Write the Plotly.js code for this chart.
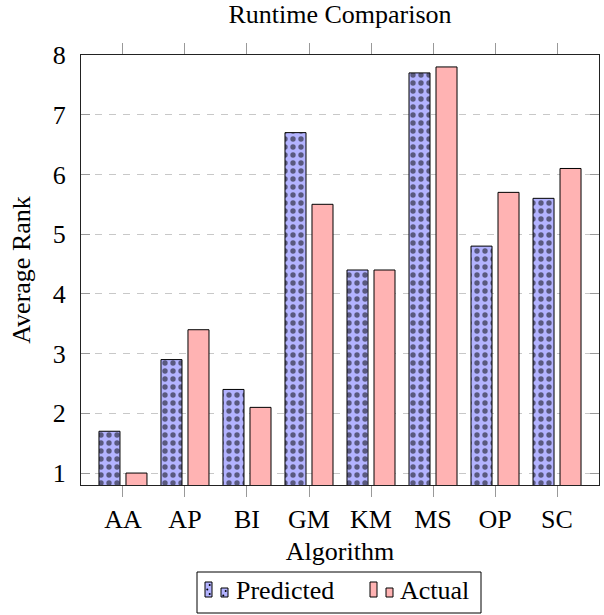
<!DOCTYPE html>
<html>
<head>
<meta charset="utf-8">
<script src="https://cdn.plot.ly/plotly-3.0.1.min.js"></script>
<style>html,body{margin:0;padding:0;background:#fff;}#chart{width:604px;height:615px;}</style>
</head>
<body>
<div id="chart"></div>
<script>
const categories = ["AA", "AP", "BI", "GM", "KM", "MS", "OP", "SC"];
const predicted = [1.7, 2.9, 2.4, 6.7, 4.4, 7.7, 4.8, 5.6];
const actual = [1.0, 3.4, 2.1, 5.5, 4.4, 7.8, 5.7, 6.1];
const yTicks = [1, 2, 3, 4, 5, 6, 7, 8];
const seriesNames = ["Predicted", "Actual"];

const FONT = "Liberation Serif, serif";
const BLUE = "#b3b3ff", PINK = "#ffb3b3";

const traces = [
  {
    type: "bar", name: seriesNames[0], x: categories, y: predicted,
    marker: {
      color: BLUE,
      line: {color: "#000", width: 1},
      pattern: {shape: ".", fgcolor: "#000", bgcolor: BLUE, size: 8, solidity: 0.35, fillmode: "overlay"}
    },
    showlegend: false
  },
  {
    type: "bar", name: seriesNames[1], x: categories, y: actual,
    marker: {color: PINK, line: {color: "#000", width: 1}},
    showlegend: false
  }
];

// Plot area in pixels: x 81..599, y 55..485
const PL = 81, PR = 599, PT = 55, PB = 485;
const px = v => (v - PL) / (PR - PL);
const py = v => (PB - v) / (PB - PT);

const shapes = [];
const annotations = [];
// legend box
shapes.push({type: "rect", xref: "paper", yref: "paper", x0: px(197), x1: px(481), y0: py(613), y1: py(572),
             line: {color: "#000", width: 1}, fillcolor: "#fff", layer: "above"});
function icon(x0, colour, dotted) {
  const bars = [[x0, x0 + 7, 582], [x0 + 16, x0 + 23, 588]];
  bars.forEach(b => {
    shapes.push({type: "rect", xref: "paper", yref: "paper", x0: px(b[0]), x1: px(b[1]), y0: py(597), y1: py(b[2]),
                 line: {color: "#000", width: 1}, fillcolor: colour, layer: "above"});
    if (dotted) {
      for (let yy = b[2] + 3; yy < 596; yy += 4.5) {
        const cx = b[0] + 3.5 + ((Math.round((yy - b[2]) / 4.5) % 2) ? 1.2 : -1.2);
        shapes.push({type: "circle", xref: "paper", yref: "paper", x0: px(cx - 1), x1: px(cx + 1), y0: py(yy + 1), y1: py(yy - 1),
                     line: {width: 0}, fillcolor: "#000", layer: "above"});
      }
    }
  });
}
icon(205, BLUE, true);
icon(370, PINK, false);
annotations.push({xref: "paper", yref: "paper", x: px(234), y: py(590), xanchor: "left", yanchor: "middle",
                  text: seriesNames[0], showarrow: false, font: {family: FONT, size: 26, color: "#000"}});
annotations.push({xref: "paper", yref: "paper", x: px(398), y: py(590), xanchor: "left", yanchor: "middle",
                  text: seriesNames[1], showarrow: false, font: {family: FONT, size: 26, color: "#000"}});

const layout = {
  width: 604, height: 615,
  margin: {l: 81, r: 5, t: 55, b: 130, pad: 0},
  paper_bgcolor: "#fff", plot_bgcolor: "#fff",
  font: {family: FONT, size: 26, color: "#000"},
  title: {text: "Runtime Comparison", font: {family: FONT, size: 26, color: "#000"},
          x: 0.5, xref: "paper", xanchor: "center", y: 0.977, yref: "container", yanchor: "middle"},
  barmode: "group", bargap: 0.129, bargroupgap: 0.222,
  showlegend: false,
  shapes: shapes,
  annotations: annotations,
  xaxis: {
    type: "category", categoryorder: "array", categoryarray: categories,
    range: [-0.677, 7.677], fixedrange: true,
    showline: true, linecolor: "#222", linewidth: 1, mirror: "ticks",
    ticks: "outside", ticklen: 11, tickcolor: "#999", tickwidth: 1,
    showgrid: false, zeroline: false,
    tickfont: {family: FONT, size: 26, color: "#000"}, ticklabelstandoff: 0,
    title: {text: "Algorithm", font: {family: FONT, size: 26, color: "#000"}, standoff: 8}
  },
  yaxis: {
    range: [0.8, 8], tickvals: yTicks, ticktext: yTicks.map(String), fixedrange: true,
    showline: true, linecolor: "#222", linewidth: 1, mirror: "ticks",
    ticks: "inside", ticklen: 9, tickcolor: "#999", tickwidth: 1,
    showgrid: true, gridcolor: "#c8c8c8", gridwidth: 1, griddash: "7px,7px",
    zeroline: false,
    tickfont: {family: FONT, size: 26, color: "#000"}, ticklabelstandoff: 9,
    title: {text: "Average Rank", font: {family: FONT, size: 26, color: "#000"}, standoff: 14}
  }
};

Plotly.newPlot("chart", traces, layout, {displayModeBar: false, staticPlot: true});
</script>
</body>
</html>
